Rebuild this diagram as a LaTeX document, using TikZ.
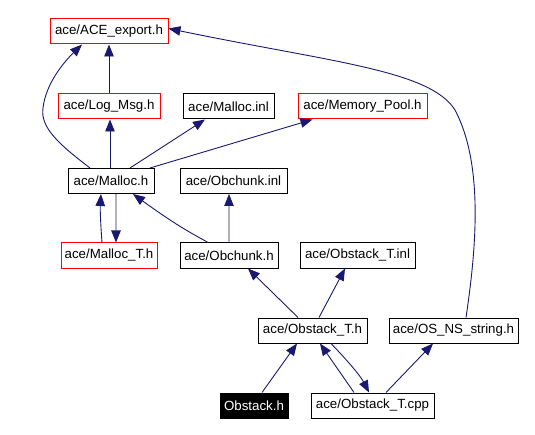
\documentclass[tikz,border=0pt]{standalone}
\usepackage{fontspec}
\setmainfont{Liberation Sans}
\usetikzlibrary{arrows.meta}
\definecolor{edgeblue}{HTML}{191970}
\definecolor{boxred}{HTML}{FF0000}
\tikzset{
  file/.style={draw=black, line width=1bp, minimum height=25bp, inner sep=0pt, font=\fontsize{13.3bp}{16bp}\selectfont, anchor=center},
  redfile/.style={file, draw=boxred},
  curfile/.style={file, fill=black, text=white},
  dep/.style={draw=edgeblue, line width=0.9bp, -{Triangle[length=12bp,width=9.5bp]}, edgeblue},
}
\begin{document}
\begin{tikzpicture}[x=1bp,y=-1bp]
\useasboundingbox (0,0) rectangle (535,435);
\node[redfile, minimum width=118bp] (exp) at (109,31.5) {ace/ACE\_export.h};
\node[redfile, minimum width=102bp] (log) at (109,106.5) {ace/Log\_Msg.h};
\node[file, minimum width=91bp] (minl) at (228.5,106.5) {ace/Malloc.inl};
\node[redfile, minimum width=129bp] (mpool) at (362.5,106.5) {ace/Memory\_Pool.h};
\node[file, minimum width=86bp] (malloc) at (111,181) {ace/Malloc.h};
\node[file, minimum width=107bp] (obinl) at (233.5,181) {ace/Obchunk.inl};
\node[redfile, minimum width=96bp] (mallocT) at (109,255.5) {ace/Malloc\_T.h};
\node[file, minimum width=98bp] (obh) at (229,255.5) {ace/Obchunk.h};
\node[file, minimum width=115bp] (obTinl) at (357.5,255.5) {ace/Obstack\_T.inl};
\node[file, minimum width=109bp] (obTh) at (312.5,330.5) {ace/Obstack\_T.h};
\node[file, minimum width=129bp] (osns) at (453.5,330.5) {ace/OS\_NS\_string.h};
\node[curfile, minimum width=68bp] (obstack) at (254,405.5) {Obstack.h};
\node[file, minimum width=123bp] (obTcpp) at (372.5,405.5) {ace/Obstack\_T.cpp};

\draw[dep] (log.north) -- (exp.south);
\draw[dep] ([xshift=-21bp]malloc.north) .. controls (60,145) and (40,128) .. (43,108) .. controls (46,82) and (66,60) .. ([xshift=-27bp]exp.south);
\draw[dep] ([xshift=-1bp]malloc.north) -- ([xshift=1bp]log.south);
\draw[dep] ([xshift=19bp]malloc.north) -- ([xshift=-23.5bp]minl.south);
\draw[dep] ([xshift=39bp]malloc.north) -- ([xshift=-50bp]mpool.south);
\draw[dep] ([xshift=-7bp]mallocT.north) .. controls (101,230) and (100,210) .. ([xshift=-10bp]malloc.south);
\draw[dep] ([xshift=5bp]malloc.south) -- ([xshift=7bp]mallocT.south |- mallocT.north);
\draw[dep] ([xshift=-21bp]obh.north) .. controls (195,235) and (180,228) .. ([xshift=22bp]malloc.south);
\draw[dep] ([xshift=0bp]obh.north) -- ([xshift=-4.5bp]obinl.south);
\draw[dep] ([xshift=-14.5bp]obTh.north) -- ([xshift=19bp]obh.south);
\draw[dep] ([xshift=6.5bp]obTh.north) -- ([xshift=-12.5bp]obTinl.south);
\draw[dep] ([xshift=8bp]obstack.north) -- ([xshift=-15.5bp]obTh.south);
\draw[dep] ([xshift=-18.5bp]obTcpp.north) -- ([xshift=7.5bp]obTh.south);
\draw[dep] ([xshift=18.5bp]obTh.south) .. controls (345,358) and (360,375) .. ([xshift=-3.5bp]obTcpp.north);
\draw[dep] ([xshift=13.5bp]obTcpp.north) -- ([xshift=-20.5bp]osns.south);
\draw[dep] ([xshift=12.5bp]osns.north) .. controls (476,250) and (484,165) .. (455,110) .. controls (430,70) and (330,62) .. ([yshift=3bp]exp.east);
\end{tikzpicture}
\end{document}
